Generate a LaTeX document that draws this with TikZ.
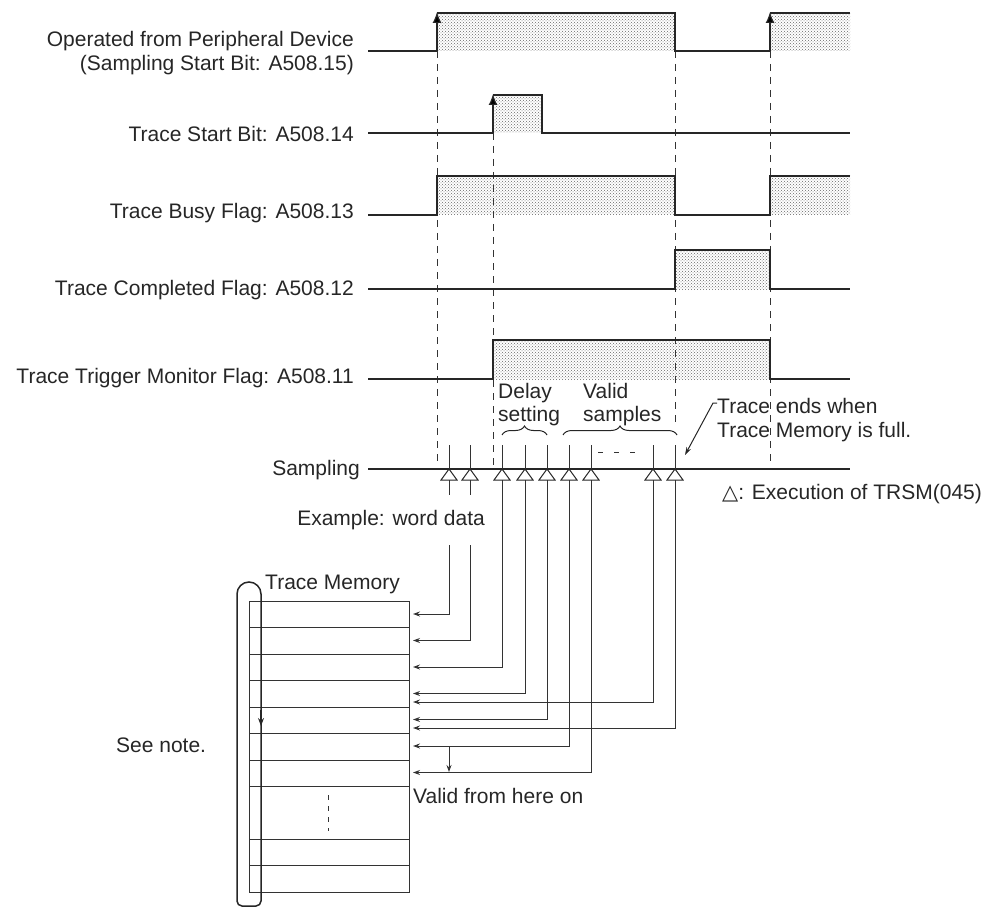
\documentclass[tikz,border=0pt]{standalone}
\usepackage{fontspec}
\setmainfont{Liberation Sans}
\newfontfamily\symf{DejaVu Sans}
\usetikzlibrary{patterns,arrows.meta,decorations.pathreplacing}
\begin{document}
\begin{tikzpicture}[x=1pt,y=-1pt,
  lbl/.style={font=\fontsize{21}{23.5}\selectfont, inner sep=0pt, text=black!85},
  sig/.style={line width=1.2pt, line join=miter, draw=black!85},
  hatch/.style={pattern=crosshatch dots, pattern color=black!60},
  vdash/.style={dash pattern=on 7pt off 6pt, line width=0.9pt, draw=black!80},
  rise/.style={line width=1.2pt, draw=black!85, -{Latex[length=11pt,width=9pt,fill=black]}},
  memline/.style={line width=1pt, draw=black!80},
  feed/.style={line width=1pt, draw=black!80, -{Stealth[length=7pt,width=5pt]}},
  tri/.style={line width=1pt, draw=black!85, fill=white},
  brc/.style={decorate, decoration={brace, amplitude=9pt}, line width=1pt, draw=black!85}
]
\useasboundingbox (0,0) rectangle (995,909);

% ---------- shaded high levels ----------
\fill[hatch] (437,13) rectangle (675,51);
\fill[hatch] (770,13) rectangle (850,51);
\fill[hatch] (493,95) rectangle (542,133);
\fill[hatch] (437,176) rectangle (675,215);
\fill[hatch] (770,176) rectangle (850,215);
\fill[hatch] (675,250) rectangle (770,289);
\fill[hatch] (493,340) rectangle (770,379);

% ---------- dashed guide lines ----------
\draw[vdash] (437,51) -- (437,467);
\draw[vdash] (493,133) -- (493,467);
\draw[vdash] (675,51) -- (675,425);
\draw[vdash] (770,51) -- (770,467);

% ---------- waveforms ----------
\draw[sig] (368,51) -- (437,51);
\draw[sig] (437,13) -- (675,13) -- (675,51) -- (770,51);
\draw[sig] (770,13) -- (850,13);
\draw[rise] (437,51) -- (437,12);
\draw[rise] (770,51) -- (770,12);

\draw[sig] (368,133) -- (493,133);
\draw[sig] (493,95) -- (542,95) -- (542,133) -- (850,133);
\draw[rise] (493,133) -- (493,94);

\draw[sig] (368,215) -- (437,215) -- (437,176) -- (675,176) -- (675,215) -- (770,215) -- (770,176) -- (850,176);
\draw[sig] (368,289) -- (675,289) -- (675,250) -- (770,250) -- (770,289) -- (850,289);
\draw[sig] (368,379) -- (493,379) -- (493,340) -- (770,340) -- (770,379) -- (850,379);
\draw[sig] (368,469) -- (850,469);

% ---------- labels ----------
\node[lbl, anchor=base east, align=right] (l15) at (354,70.2) {Operated from Peripheral Device\\(Sampling Start Bit: A508.15)};
\node[lbl, anchor=base east] (l14) at (354,142) {Trace Start Bit: A508.14};
\node[lbl, anchor=base east] (l13) at (354,219) {Trace Busy Flag: A508.13};
\node[lbl, anchor=base east] (l12) at (354,295) {Trace Completed Flag: A508.12};
\node[lbl, anchor=base east] (l11) at (354,383) {Trace Trigger Monitor Flag: A508.11};
\node[lbl, anchor=base east] (lsa) at (360,475) {Sampling};

% ---------- sampling marks ----------
\foreach \i/\x in {1/449,2/470,3/502,4/525,5/547,6/569,7/591,8/653,9/675}{
  \coordinate (s\i) at (\x,469);
  \coordinate (b\i) at (\x,479);
  \draw[memline] (\x,445) -- (s\i);
}

% braces and their texts
\draw[brc] (502,435) -- (547,435);
\draw[brc] (563,435) -- (677,435);
\node[lbl, anchor=base west, align=left] (dly) at (498,421.7) {Delay\\setting};
\node[lbl, anchor=base west, align=left] (vld) at (583,421.7) {Valid\\samples};
\draw[memline, dash pattern=on 5pt off 11pt] (598,452) -- (636,452);

% trace end note
\node[lbl, anchor=base west, align=left] (tend) at (717,437) {Trace ends when\\Trace Memory is full.};
\coordinate (tendA) at (713,403);
\coordinate (tendB) at (685,455);
\draw[line width=1pt, draw=black!85, -{Stealth[length=8pt,width=5pt]}] (717,403) -- (tendA) -- (tendB);

\node[lbl, anchor=base west] (legend) at (722,499) {{\symf △}: Execution of TRSM(045)};

% ---------- memory ----------
\node[lbl, anchor=base east] (ex) at (485,525) {Example: word data};
\node[lbl, anchor=base west] (tm) at (265,589) {Trace Memory};
\node[lbl, anchor=base west] (see) at (116,752) {See note.};
\node[lbl, anchor=base west] (vfh) at (413,803) {Valid from here on};

\draw[memline] (249,601) rectangle (409,892);
\foreach \y in {627.5,654,680.5,707,733.5,760,786.5,839.3,865.7}
  \draw[memline] (249,\y) -- (409,\y);
\draw[memline, dash pattern=on 5pt off 6pt] (328,795) -- (328,831);

% ring loop
\draw[line width=1.5pt, draw=black!85] (261,901) -- (261,594) arc[start angle=0,end angle=180,radius=12pt]
  -- (237,901) arc[start angle=180,end angle=270,radius=5pt] -- (256,906)
  arc[start angle=270,end angle=360,radius=5pt] -- cycle;
\draw[line width=1.2pt, draw=black!85, -{Stealth[length=8pt,width=6pt]}] (261,710) -- (261,726);

% feed arrows
\foreach \i/\y in {1/614,2/640.5,3/667,4/693.5,5/719.5,6/746,7/772.5,8/702,9/728}
  \coordinate (m\i) at (413,\y);
\draw[memline] (b1) -- (449,495);
\draw[memline] (b2) -- (470,495);
\draw[feed] (449,545) |- (m1);
\draw[feed] (470,545) |- (m2);
\foreach \i in {3,4,5,6,7,8,9}
  \draw[feed] (b\i) |- (m\i);
\draw[feed] (449,746) -- (449,772);

% triangles on top
\foreach \i/\x in {1/449,2/470,3/502,4/525,5/547,6/569,7/591,8/653,9/675}
  \draw[tri] (s\i) -- (\x-8,480) -- (\x+8,480) -- cycle;
\end{tikzpicture}
\end{document}
